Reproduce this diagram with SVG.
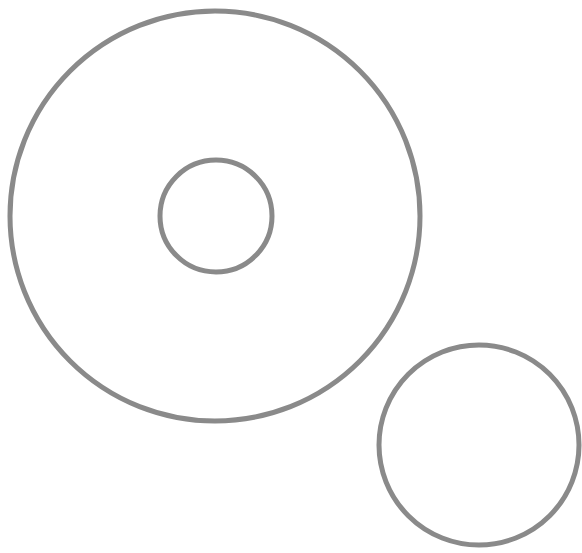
<svg xmlns="http://www.w3.org/2000/svg" width="582" height="553" viewBox="0 0 582 553">
<style>.c{fill:#ffffff;stroke:#8a8a8a;stroke-width:5}</style>
<rect width="582" height="553" fill="#ffffff"/>
<g id="outer"><circle class="c" cx="215" cy="216" r="205"/></g>
<g id="inner"><circle class="c" cx="216" cy="216" r="56"/></g>
<g id="satellite"><circle class="c" cx="479" cy="445" r="100"/></g>
<g id="connectors"></g>
</svg>
